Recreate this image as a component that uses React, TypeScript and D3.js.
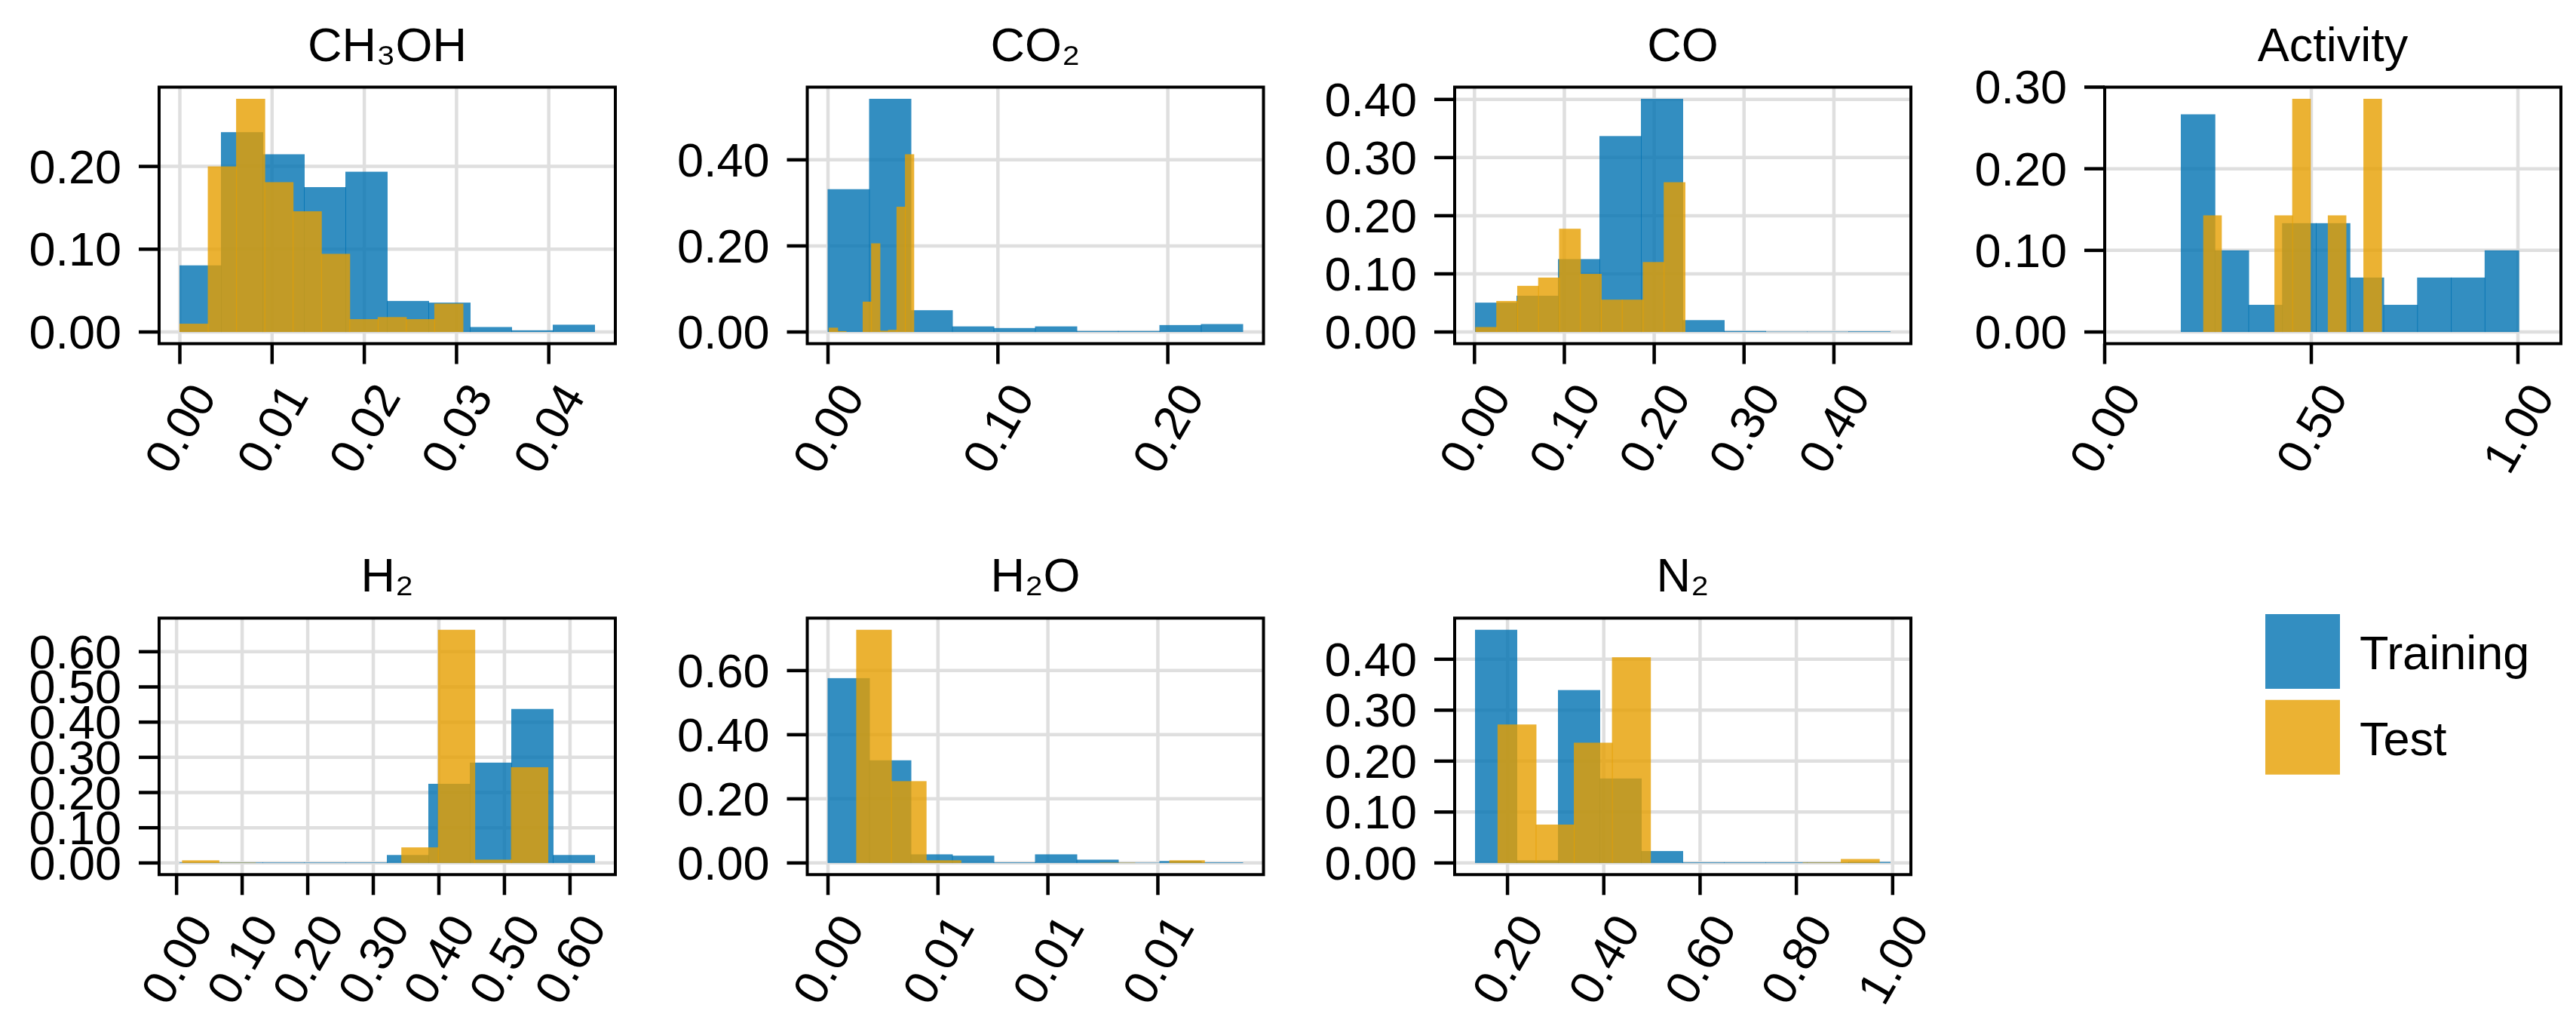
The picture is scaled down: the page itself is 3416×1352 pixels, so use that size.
import React from "react";
import * as d3 from "d3";

// ---------- data (fractions per bin) ----------
const panelTitles = ["CH₃OH", "CO₂", "CO", "Activity", "H₂", "H₂O", "N₂"];

// [first bin edge, last bin edge] of each histogram (10 equal bins)
const trainRanges: [number, number][] = [
  [0, 0.04497],
  [0, 0.2441],
  [0.001, 0.4626],
  [0.1851, 1.002],
  [0.005, 0.6375],
  [0, 0.01886],
  [0.1333, 0.9948],
];
const trainHeights: number[][] = [
  [0.0805, 0.2414, 0.2147, 0.175, 0.1936, 0.0375, 0.0355, 0.006, 0.002, 0.0088],
  [0.3318, 0.5418, 0.0506, 0.013, 0.0092, 0.013, 0.0023, 0.0023, 0.0161, 0.0184],
  [0.0505, 0.0624, 0.1254, 0.337, 0.4011, 0.0204, 0.0017, 0.0006, 0.0006, 0.0011],
  [0.2667, 0.1, 0.0333, 0.1333, 0.1333, 0.0667, 0.0333, 0.0667, 0.0667, 0.1],
  [0.0015, 0.0015, 0.0015, 0.0015, 0.0015, 0.0226, 0.2248, 0.285, 0.4374, 0.0226],
  [0.5764, 0.3202, 0.0269, 0.0227, 0.002, 0.0269, 0.0103, 0.001, 0.006, 0.002],
  [0.4579, 0.0052, 0.3395, 0.1659, 0.0234, 0.0013, 0.0013, 0.0013, 0.0013, 0.002],
];

const testRanges: [number, number][] = [
  [0, 0.0307],
  [0.0007, 0.0505],
  [0.0014, 0.2343],
  [0.2394, 0.67],
  [0.0089, 0.5663],
  [0.0013, 0.01712],
  [0.1801, 0.9723],
];
const testHeights: number[][] = [
  [0.01, 0.2, 0.2817, 0.181, 0.1458, 0.0944, 0.0155, 0.018, 0.0155, 0.0343],
  [0.01, 0.002, 0, 0, 0.0705, 0.206, 0.003, 0.005, 0.291, 0.413],
  [0.0085, 0.0533, 0.0794, 0.0936, 0.1776, 0.0999, 0.0556, 0.0556, 0.1203, 0.2576],
  [0.1429, 0, 0, 0, 0.1429, 0.2857, 0, 0.1429, 0, 0.2857],
  [0.0075, 0.001, 0, 0, 0, 0, 0.0442, 0.6623, 0.0094, 0.2719],
  [0.7273, 0.2552, 0.0083, 0, 0, 0, 0, 0.001, 0, 0.0083],
  [0.2719, 0.0754, 0.2361, 0.4039, 0, 0, 0, 0, 0.001, 0.0078],
];

// explicit x limits where the reference does not use the default 5% margins
const xLimitOverrides: ([number, number] | null)[] = [null, null, null, [0, 1.104], null, null, null];

const xTickValues: number[][] = [
  [0, 0.01, 0.02, 0.03, 0.04],
  [0, 0.1, 0.2],
  [0, 0.1, 0.2, 0.3, 0.4],
  [0, 0.5, 1.0],
  [0, 0.1, 0.2, 0.3, 0.4, 0.5, 0.6],
  [0, 0.005, 0.01, 0.015],
  [0.2, 0.4, 0.6, 0.8, 1.0],
];
const xTickLabels: string[][] = [
  ["0.00", "0.01", "0.02", "0.03", "0.04"],
  ["0.00", "0.10", "0.20"],
  ["0.00", "0.10", "0.20", "0.30", "0.40"],
  ["0.00", "0.50", "1.00"],
  ["0.00", "0.10", "0.20", "0.30", "0.40", "0.50", "0.60"],
  ["0.00", "0.01", "0.01", "0.01"],
  ["0.20", "0.40", "0.60", "0.80", "1.00"],
];
const yTickValues: number[][] = [
  [0, 0.1, 0.2],
  [0, 0.2, 0.4],
  [0, 0.1, 0.2, 0.3, 0.4],
  [0, 0.1, 0.2, 0.3],
  [0, 0.1, 0.2, 0.3, 0.4, 0.5, 0.6],
  [0, 0.2, 0.4, 0.6],
  [0, 0.1, 0.2, 0.3, 0.4],
];
const yTickLabels: string[][] = [
  ["0.00", "0.10", "0.20"],
  ["0.00", "0.20", "0.40"],
  ["0.00", "0.10", "0.20", "0.30", "0.40"],
  ["0.00", "0.10", "0.20", "0.30"],
  ["0.00", "0.10", "0.20", "0.30", "0.40", "0.50", "0.60"],
  ["0.00", "0.20", "0.40", "0.60"],
  ["0.00", "0.10", "0.20", "0.30", "0.40"],
];

const seriesNames = ["Training", "Test"];

// ---------- styles / layout ----------
const W = 3416;
const H = 1352;
const FONT = "'Liberation Sans', Arial, Helvetica, sans-serif";
const FS = 63;
const TRAIN_COLOR = "#0072B2";
const TEST_COLOR = "#E69F00";
const BAR_ALPHA = 0.8;
const GRID_COLOR = "#dfdfdf";
const colLefts = [211, 1070.5, 1929, 2791];
const rowTops = [115.5, 819.3];
const PW = 605;
const PH = 340;

function bins(range: [number, number], heights: number[]) {
  const n = heights.length;
  const step = (range[1] - range[0]) / n;
  return heights.map((h, i) => ({ x0: range[0] + i * step, x1: range[0] + (i + 1) * step, h }));
}

function Panel({ idx }: { idx: number }) {
  const col = idx < 4 ? idx : idx - 4;
  const row = idx < 4 ? 0 : 1;
  const left = colLefts[col];
  const top = rowTops[row];
  const right = left + PW;
  const bottom = top + PH;

  const trainBins = bins(trainRanges[idx], trainHeights[idx]);
  const testBins = bins(testRanges[idx], testHeights[idx]);

  const xmin = Math.min(trainRanges[idx][0], testRanges[idx][0]);
  const xmax = Math.max(trainRanges[idx][1], testRanges[idx][1]);
  const xr = xmax - xmin;
  const xDomain = xLimitOverrides[idx] ?? [xmin - 0.05 * xr, xmax + 0.05 * xr];
  const ymax = d3.max([...trainHeights[idx], ...testHeights[idx]]) as number;
  const x = d3.scaleLinear().domain(xDomain).range([left, right]);
  const y = d3.scaleLinear().domain([-0.05 * ymax, 1.05 * ymax]).range([bottom, top]);

  const bar = (b: { x0: number; x1: number; h: number }, color: string, key: string) =>
    b.h > 0 ? (
      <rect
        key={key}
        x={x(b.x0) - 0.5}
        y={y(b.h)}
        width={x(b.x1) - x(b.x0) + 1}
        height={y(0) - y(b.h)}
        fill={color}
        fillOpacity={BAR_ALPHA}
      />
    ) : null;

  return (
    <g>
      <defs>
        <clipPath id={`clip${idx}`}>
          <rect x={left} y={top} width={PW} height={PH} />
        </clipPath>
      </defs>
      <g clipPath={`url(#clip${idx})`}>
        {xTickValues[idx].map((v, i) => (
          <line key={`gx${i}`} x1={x(v)} x2={x(v)} y1={top} y2={bottom} stroke={GRID_COLOR} strokeWidth={4.5} />
        ))}
        {yTickValues[idx].map((v, i) => (
          <line key={`gy${i}`} x1={left} x2={right} y1={y(v)} y2={y(v)} stroke={GRID_COLOR} strokeWidth={4.5} />
        ))}
        {trainBins.map((b, i) => bar(b, TRAIN_COLOR, `tr${i}`))}
        {testBins.map((b, i) => bar(b, TEST_COLOR, `te${i}`))}
      </g>
      <rect x={left} y={top} width={PW} height={PH} fill="none" stroke="#000" strokeWidth={4} />
      {xTickValues[idx].map((v, i) => (
        <g key={`xt${i}`}>
          <line x1={x(v)} x2={x(v)} y1={bottom} y2={bottom + 27} stroke="#000" strokeWidth={4.5} />
          <text
            transform={`translate(${x(v)},${bottom + 112}) rotate(-60)`}
            textAnchor="middle"
            dy={22}
            fontFamily={FONT}
            fontSize={FS}
            fill="#000"
          >
            {xTickLabels[idx][i]}
          </text>
        </g>
      ))}
      {yTickValues[idx].map((v, i) => (
        <g key={`yt${i}`}>
          <line x1={left - 27} x2={left} y1={y(v)} y2={y(v)} stroke="#000" strokeWidth={4.5} />
          <text x={left - 50} y={y(v) + 22} textAnchor="end" fontFamily={FONT} fontSize={FS} fill="#000">
            {yTickLabels[idx][i]}
          </text>
        </g>
      ))}
      <text x={(left + right) / 2} y={top - 35} textAnchor="middle" fontFamily={FONT} fontSize={FS} fill="#000">
        {panelTitles[idx]}
      </text>
    </g>
  );
}

export default function App() {
  const legendColors = [TRAIN_COLOR, TEST_COLOR];
  return (
    <svg
      width={W}
      height={H}
      viewBox={`0 0 ${W} ${H}`}
      style={{ position: "absolute", left: 0, top: 0, background: "#fff" }}
    >
      <rect x={0} y={0} width={W} height={H} fill="#fff" />
      {panelTitles.map((_, i) => (
        <Panel key={i} idx={i} />
      ))}
      <g>
        {seriesNames.map((name, i) => (
          <g key={name}>
            <rect x={3004} y={814 + i * 113.7} width={99} height={99} fill={legendColors[i]} fillOpacity={BAR_ALPHA} />
            <text x={3129} y={887 + i * 113.7} fontFamily={FONT} fontSize={FS} fill="#000">
              {name}
            </text>
          </g>
        ))}
      </g>
    </svg>
  );
}
